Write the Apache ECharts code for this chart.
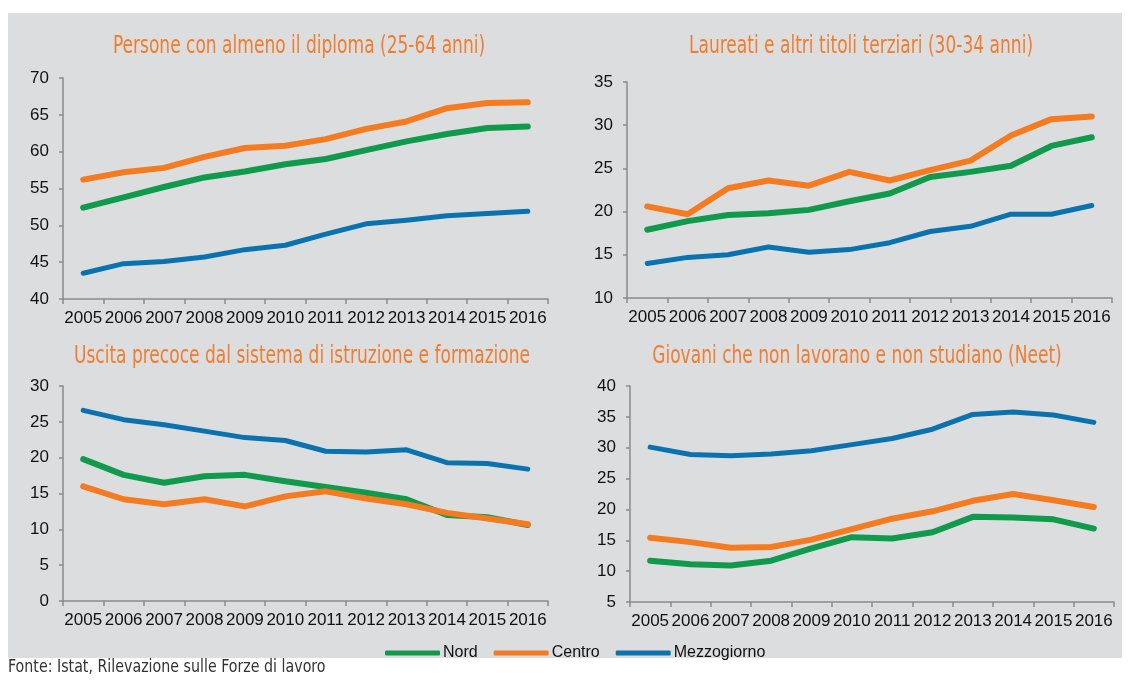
<!DOCTYPE html>
<html>
<head>
	<meta http-equiv="Content-Type" content="text/html;charset=utf-8">
	<title>Istruzione e Neet per ripartizione</title>
	<script src="https://cdn.jsdelivr.net/npm/echarts@6/dist/echarts.min.js"></script>
	<style>
	  html, body{
		margin: 0;
		padding: 0;
		background: #fff;
	  }
	  #chart{
		width: 1131px;
		height: 680px;
	  }
	</style>
</head>
<body>

<div id="chart"></div>

<script>
	// anni (asse delle categorie)
	var years = ['2005','2006','2007','2008','2009','2010','2011','2012','2013','2014','2015','2016'];

	// Persone con almeno il diploma (25-64 anni)
	var diplomaNord   = [52.4, 53.8, 55.2, 56.5, 57.3, 58.3, 59.0, 60.2, 61.4, 62.4, 63.2, 63.4];
	var diplomaCentro = [56.2, 57.2, 57.8, 59.3, 60.5, 60.8, 61.7, 63.1, 64.1, 65.9, 66.6, 66.7];
	var diplomaSud    = [43.5, 44.8, 45.1, 45.7, 46.7, 47.3, 48.8, 50.2, 50.7, 51.3, 51.6, 51.9];

	// Laureati e altri titoli terziari (30-34 anni)
	var laureatiNord   = [17.9, 18.9, 19.6, 19.8, 20.2, 21.2, 22.1, 24.0, 24.6, 25.3, 27.6, 28.6];
	var laureatiCentro = [20.6, 19.7, 22.7, 23.6, 23.0, 24.6, 23.6, 24.8, 25.9, 28.8, 30.7, 31.0];
	var laureatiSud    = [14.0, 14.7, 15.0, 15.9, 15.3, 15.6, 16.4, 17.7, 18.3, 19.7, 19.7, 20.7];

	// Uscita precoce dal sistema di istruzione e formazione
	var uscitaNord   = [19.8, 17.6, 16.5, 17.4, 17.6, 16.7, 15.9, 15.1, 14.2, 12.0, 11.7, 10.6];
	var uscitaCentro = [16.0, 14.2, 13.5, 14.2, 13.2, 14.6, 15.3, 14.3, 13.5, 12.3, 11.5, 10.7];
	var uscitaSud    = [26.6, 25.3, 24.6, 23.7, 22.8, 22.4, 20.9, 20.8, 21.1, 19.3, 19.2, 18.4];

	// Giovani che non lavorano e non studiano (Neet)
	var neetNord   = [11.7, 11.1, 10.9, 11.7, 13.7, 15.5, 15.3, 16.3, 18.8, 18.7, 18.4, 16.9];
	var neetCentro = [15.4, 14.7, 13.8, 13.9, 15.1, 16.8, 18.5, 19.7, 21.4, 22.5, 21.5, 20.4];
	var neetSud    = [30.1, 28.9, 28.7, 29.0, 29.5, 30.5, 31.5, 33.0, 35.4, 35.8, 35.3, 34.1];

	var titles = [
		'Persone con almeno il diploma (25-64 anni)',
		'Laureati e altri titoli terziari (30-34 anni)',
		'Uscita precoce dal sistema di istruzione e formazione',
		'Giovani che non lavorano e non studiano (Neet)'
	];
	var areaNames = ['Nord', 'Centro', 'Mezzogiorno'];
	var areaColors = ['#109a4c', '#f47b20', '#0a72ae'];

	var panels = [
		{ data: [diplomaNord, diplomaCentro, diplomaSud],    min: 40, max: 70 },
		{ data: [laureatiNord, laureatiCentro, laureatiSud], min: 10, max: 35 },
		{ data: [uscitaNord, uscitaCentro, uscitaSud],       min: 0,  max: 30 },
		{ data: [neetNord, neetCentro, neetSud],             min: 5,  max: 40 }
	];

	// posizioni dei riquadri
	var grids = [
		{ left: 63,  top: 78,  width: 485, height: 221 },
		{ left: 627, top: 82,  width: 485, height: 216 },
		{ left: 63,  top: 386, width: 485, height: 215 },
		{ left: 630, top: 386, width: 484, height: 216 }
	];
	// centro dei titoli
	var titlePos = [
		{ x: 299, y: 47 },
		{ x: 861, y: 47 },
		{ x: 302, y: 357 },
		{ x: 857, y: 357 }
	];

	var axisColor = '#8a8a8a';
	var labelFont = 'Liberation Sans, Arial, sans-serif';
	var titleFont = '"DejaVu Sans Condensed", "Liberation Sans Narrow", sans-serif';

	var xAxes = [], yAxes = [], series = [];
	var graphics = [
		{
			type: 'rect',
			z: -10,
			silent: true,
			shape: { x: 8, y: 13, width: 1114, height: 645 },
			style: { fill: '#dcdddf' }
		},
		{
			type: 'text',
			x: 8,
			y: 668,
			scaleX: 0.93,
			silent: true,
			style: {
				text: 'Fonte: Istat, Rilevazione sulle Forze di lavoro',
				fill: '#333',
				fontSize: 17,
				fontFamily: titleFont,
				verticalAlign: 'middle'
			}
		}
	];

	for (var i = 0; i < panels.length; i++) {
		xAxes.push({
			type: 'category',
			gridIndex: i,
			data: years,
			boundaryGap: true,
			axisLine: { lineStyle: { color: axisColor, width: 1.5 } },
			axisTick: { show: true, length: 5, lineStyle: { color: axisColor, width: 1.5 } },
			axisLabel: { interval: 0, margin: 11, color: '#111', fontSize: 17, fontFamily: labelFont },
			splitLine: { show: false }
		});
		yAxes.push({
			type: 'value',
			gridIndex: i,
			min: panels[i].min,
			max: panels[i].max,
			interval: 5,
			axisLine: { show: true, lineStyle: { color: axisColor, width: 1.5 } },
			axisTick: { show: true, length: 4, lineStyle: { color: axisColor, width: 1.5 } },
			axisLabel: { margin: 14, color: '#111', fontSize: 17, fontFamily: labelFont },
			splitLine: { show: false }
		});
		for (var s = 0; s < 3; s++) {
			series.push({
				name: areaNames[s],
				type: 'line',
				xAxisIndex: i,
				yAxisIndex: i,
				data: panels[i].data[s],
				symbol: 'none',
				smooth: false,
				lineStyle: {
					color: areaColors[s],
					width: s == 2 ? 5 : 6,
					cap: 'round',
					join: 'round'
				},
				itemStyle: { color: areaColors[s] },
				emphasis: { disabled: true },
				z: s == 1 ? 4 : 3
			});
		}
		// titoli stretti (carattere condensato)
		graphics.push({
			type: 'text',
			x: titlePos[i].x,
			y: titlePos[i].y,
			scaleX: 0.79,
			silent: true,
			style: {
				text: titles[i],
				fill: '#f07d2e',
				fontSize: 24,
				fontFamily: titleFont,
				align: 'center',
				verticalAlign: 'middle'
			}
		});
	}

	var option = {
		backgroundColor: '#fff',
		animation: false,
		graphic: graphics,
		legend: {
			data: areaNames,
			left: 380,
			top: 640,
			icon: 'roundRect',
			itemWidth: 55,
			itemHeight: 5,
			itemGap: 16,
			textStyle: { color: '#111', fontSize: 16, fontFamily: labelFont, padding: [0, 0, 0, -2] }
		},
		grid: grids,
		xAxis: xAxes,
		yAxis: yAxes,
		series: series
	};

	var myChart = echarts.init(document.getElementById('chart'), null, { renderer: 'canvas' });
	myChart.setOption(option);
</script>
</body>
</html>
